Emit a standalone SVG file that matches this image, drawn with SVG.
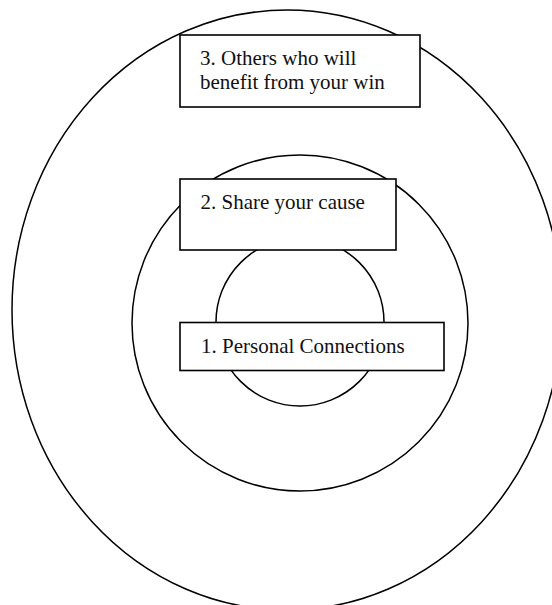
<svg xmlns="http://www.w3.org/2000/svg" width="552" height="605" viewBox="0 0 552 605">
<style>
.ring{fill:none;stroke:#000;stroke-width:1.5}
.box{fill:#fff;stroke:#000;stroke-width:1.6}
.lbl{font-family:"Liberation Serif","Times New Roman",serif;font-size:21px;fill:#111}
</style>
<rect width="552" height="605" fill="#fff"/>
<g id="rings">
<ellipse class="ring" cx="287" cy="310" rx="275" ry="300"/>
<circle class="ring" cx="300" cy="323" r="168"/>
<circle class="ring" cx="300" cy="322" r="84"/>
</g>
<g id="connectors"></g>
<g id="node3">
<rect class="box" x="180" y="35" width="240" height="72"/>
<text class="lbl" x="200" y="65">3. Others who will</text>
<text class="lbl" x="200" y="88.5">benefit from your win</text>
</g>
<g id="node2">
<rect class="box" x="180" y="179" width="216" height="71"/>
<text class="lbl" x="200.5" y="209">2. Share your cause</text>
</g>
<g id="node1">
<rect class="box" x="180" y="322.5" width="264" height="48"/>
<text class="lbl" x="201" y="353">1. Personal Connections</text>
</g>
</svg>
